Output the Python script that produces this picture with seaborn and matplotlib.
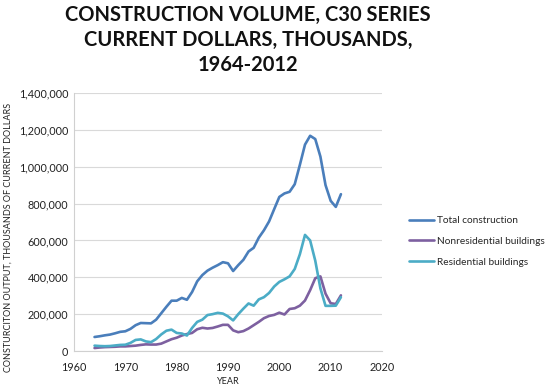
import seaborn as sns
import matplotlib.pyplot as plt
import pandas as pd
from matplotlib.ticker import FuncFormatter

# values, thousands of the axis unit
years = list(range(1964, 2013))
total = [76, 80, 85, 89, 96, 104, 107, 120, 140, 152, 151, 150, 170, 205, 240,
         273, 273, 288, 278, 320, 378, 412, 436, 452, 466, 482, 476, 434, 466,
         495, 540, 560, 615, 655, 703, 770, 836, 855, 864, 905, 1010, 1120,
         1168, 1150, 1055, 900, 815, 782, 851]
nonres = [16, 19, 21, 22, 23, 25, 25, 27, 29, 33, 36, 35, 35, 40, 52, 64, 72,
          84, 92, 98, 118, 126, 122, 125, 133, 142, 142, 112, 102, 108, 122,
          140, 158, 178, 190, 196, 208, 198, 228, 232, 246, 274, 330, 395, 405,
          311, 259, 255, 302]
resid = [29, 27, 26, 27, 30, 33, 34, 44, 60, 63, 52, 48, 65, 90, 110, 116, 98,
         95, 84, 125, 158, 170, 195, 200, 207, 203, 188, 166, 200, 230, 258,
         246, 280, 292, 315, 350, 375, 389, 405, 445, 525, 630, 600, 490, 340,
         245, 245, 246, 292]
series = ["Total construction", "Nonresidential buildings", "Residential buildings"]
colors = ["#4a7ebb", "#7d60a0", "#4bacc6"]


def main():
    df = pd.concat([
        pd.DataFrame({"year": years, "value": [v * 1000 for v in vals], "series": name})
        for name, vals in zip(series, [total, nonres, resid])
    ])

    sns.set_style("white")
    plt.rcParams["font.family"] = ["Lato", "DejaVu Sans"]

    fig = plt.figure(figsize=(5.5, 3.89), dpi=100)
    ax = fig.add_axes([74 / 550, 1 - 351 / 389, 308 / 550, 258 / 389])
    sns.lineplot(data=df, x="year", y="value", hue="series", palette=colors,
                 linewidth=1.9, ax=ax)

    ax.set_xlim(1960, 2020)
    ax.set_ylim(0, 1_400_000)
    ax.set_xticks(range(1960, 2021, 10))
    ax.set_yticks(range(0, 1_400_001, 200_000))
    ax.yaxis.set_major_formatter(FuncFormatter(lambda v, _: f"{int(v):,}"))
    ax.tick_params(length=0, labelsize=7.8, colors="#222222")
    ax.tick_params(axis="y", pad=4)
    ax.tick_params(axis="x", pad=8)
    ax.grid(axis="y", color="#d9d9d9", linewidth=0.8)
    for side in ["top", "right"]:
        ax.spines[side].set_visible(False)
    for side in ["left", "bottom"]:
        ax.spines[side].set_color("#d0d0d0")
        ax.spines[side].set_linewidth(0.8)
    ax.set_xlabel("")
    ax.set_ylabel("")

    ax.legend(loc="upper left", bbox_to_anchor=(405 / 550, 1 - 212 / 389),
              bbox_transform=fig.transFigure, frameon=False, fontsize=7.3,
              handlelength=2.5, handletextpad=0.3, labelspacing=1.15,
              borderaxespad=0)

    fig.text(248 / 550, 1 - 40 / 389,
             "CONSTRUCTION VOLUME, C30 SERIES\nCURRENT DOLLARS, THOUSANDS,\n1964-2012",
             ha="center", va="center", fontsize=14.5, fontweight="bold",
             linespacing=1.33, color="#111111")
    fig.text(8 / 550, 1 - 237 / 389,
             "CONSTURCITON OUTPUT, THOUSANDS OF CURRENT DOLLARS",
             rotation=90, ha="center", va="center", fontsize=6.5, color="#222222")
    fig.text(228 / 550, 1 - 381 / 389, "YEAR", ha="center", va="center",
             fontsize=6.5, color="#222222")

    fig.savefig("out.png", dpi=100)


if __name__ == "__main__":
    main()
